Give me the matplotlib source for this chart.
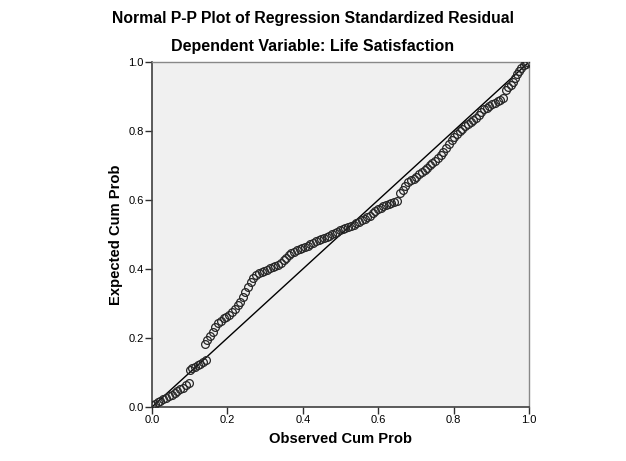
import matplotlib
matplotlib.use("Agg")
import matplotlib.pyplot as plt

plt.rcParams['font.family'] = ['Liberation Sans', 'DejaVu Sans']

title = "Normal P-P Plot of Regression Standardized Residual"
subtitle = "Dependent Variable: Life Satisfaction"
xlabel = "Observed Cum Prob"
ylabel = "Expected Cum Prob"
ticks = [0.0, 0.2, 0.4, 0.6, 0.8, 1.0]
tick_labels = ["0.0", "0.2", "0.4", "0.6", "0.8", "1.0"]

observed = [
    0.000, 0.008, 0.015, 0.022, 0.030, 0.037, 0.045, 0.052, 0.060, 0.067, 0.075, 0.082, 0.090, 0.097,
    0.100, 0.107, 0.114, 0.121, 0.128, 0.135, 0.142,
    0.140, 0.147, 0.154, 0.161, 0.168, 0.175, 0.183, 0.190, 0.197, 0.205, 0.212, 0.219, 0.227, 0.234,
    0.241, 0.248, 0.255, 0.262, 0.269, 0.277, 0.284, 0.291, 0.298, 0.305, 0.313, 0.320, 0.327, 0.334,
    0.341, 0.349, 0.356, 0.363, 0.370, 0.377, 0.384, 0.392, 0.399, 0.406, 0.413, 0.420, 0.427, 0.435,
    0.442, 0.449, 0.456, 0.463, 0.470, 0.478, 0.485, 0.492, 0.499, 0.506, 0.513, 0.521, 0.528, 0.535,
    0.542, 0.549, 0.556, 0.564, 0.571, 0.578, 0.585, 0.592, 0.599, 0.607, 0.614, 0.621, 0.628, 0.635,
    0.642, 0.650,
    0.658, 0.665, 0.672, 0.680, 0.687, 0.694, 0.701, 0.708, 0.716, 0.723, 0.730, 0.737, 0.744, 0.751,
    0.759, 0.766, 0.773, 0.780, 0.787, 0.795, 0.802, 0.809, 0.816, 0.823, 0.831, 0.838, 0.845, 0.852,
    0.859, 0.867, 0.874, 0.881, 0.888, 0.895, 0.903, 0.910, 0.917, 0.924, 0.931,
    0.938, 0.945, 0.952, 0.958, 0.962, 0.968, 0.974, 0.980, 0.986, 0.991, 0.996,
]
expected = [
    0.006, 0.010, 0.014, 0.018, 0.022, 0.027, 0.031, 0.036, 0.042, 0.046, 0.051, 0.056, 0.063, 0.070,
    0.108, 0.112, 0.117, 0.121, 0.125, 0.130, 0.135,
    0.183, 0.195, 0.207, 0.218, 0.232, 0.243, 0.250, 0.257, 0.262, 0.268, 0.275, 0.285, 0.295, 0.305,
    0.318, 0.332, 0.348, 0.362, 0.375, 0.383, 0.388, 0.390, 0.393, 0.398, 0.402, 0.406, 0.410, 0.413,
    0.418, 0.425, 0.432, 0.440, 0.446, 0.450, 0.454, 0.458, 0.461, 0.465, 0.468, 0.472, 0.476, 0.480,
    0.484, 0.487, 0.490, 0.493, 0.496, 0.500, 0.504, 0.508, 0.512, 0.516, 0.519, 0.522, 0.525, 0.528,
    0.532, 0.536, 0.542, 0.546, 0.550, 0.555, 0.562, 0.568, 0.574, 0.578, 0.582, 0.586, 0.589, 0.592,
    0.595, 0.598,
    0.620, 0.630, 0.642, 0.652, 0.658, 0.662, 0.667, 0.674, 0.682, 0.688, 0.693, 0.700, 0.707, 0.713,
    0.722, 0.731, 0.740, 0.750, 0.762, 0.773, 0.783, 0.792, 0.800, 0.807, 0.814, 0.820, 0.826, 0.832,
    0.838, 0.845, 0.855, 0.863, 0.868, 0.873, 0.878, 0.882, 0.886, 0.890, 0.895,
    0.920, 0.928, 0.934, 0.942, 0.955, 0.965, 0.974, 0.983, 0.990, 0.995, 0.999,
]
ref_line = [0.0, 1.0]

fig = plt.figure(figsize=(6.26, 4.61), dpi=100)
fig.patch.set_facecolor("white")
ax = fig.add_axes([152/626, 54/461, 377/626, 345/461])
ax.set_facecolor("#f0f0f0")

ax.plot(ref_line, ref_line, color="black", lw=1.0, zorder=2)
ax.plot(observed, expected, linestyle="none", marker="o", markersize=5.6,
        markerfacecolor="none", markeredgecolor="#262626", markeredgewidth=0.9, zorder=3)

ax.set_xlim(0, 1)
ax.set_ylim(0, 1)
ax.set_xticks(ticks)
ax.set_xticklabels(tick_labels)
ax.set_yticks(ticks)
ax.set_yticklabels(tick_labels)
ax.tick_params(direction="out", length=5, width=1, labelsize=8, colors="#303030",
               labelcolor="black", pad=1)

for s in ["left", "bottom"]:
    ax.spines[s].set_color("#404040")
    ax.spines[s].set_linewidth(1.2)
for s in ["top", "right"]:
    ax.spines[s].set_color("#888888")
    ax.spines[s].set_linewidth(1.0)

ax.set_xlabel(xlabel, fontsize=10.6, fontweight="bold", labelpad=5)
ax.set_ylabel(ylabel, fontsize=10.6, fontweight="bold", labelpad=4)

fig.text(0.5, 1 - 18/461, title, ha="center", va="center", fontsize=11.3, fontweight="bold")
fig.text(0.5, 1 - 47/461, subtitle, ha="center", va="center", fontsize=11.5, fontweight="bold")

fig.savefig("out.png", dpi=100)
